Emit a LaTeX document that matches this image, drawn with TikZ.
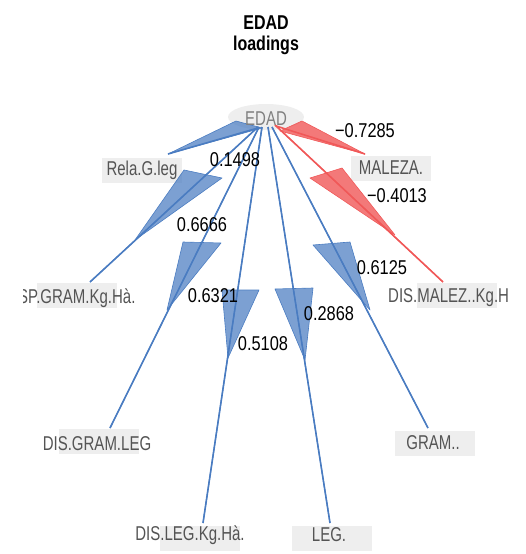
\documentclass[tikz,border=0pt]{standalone}
\usepackage{fontspec}
\usetikzlibrary{shapes.geometric}
\setmainfont{Liberation Sans}
\newfontfamily\labelfont{Liberation Sans}[FakeStretch=0.75]
\newfontfamily\valuefont{Liberation Sans}[FakeStretch=0.82]
\newfontfamily\titlefont{Liberation Sans}[FakeStretch=0.8]
\definecolor{posblue}{RGB}{74,124,193}
\definecolor{negred}{RGB}{240,88,88}
\definecolor{nodegray}{RGB}{238,238,238}
\definecolor{labelgray}{RGB}{84,84,84}
\begin{document}
\begin{tikzpicture}[x=1pt,y=-1pt,
  indbox/.style={fill=nodegray, draw=none, minimum width=80pt, minimum height=25pt, inner sep=0pt},
  indlabel/.style={font=\labelfont\fontsize{20}{20}\selectfont, text=labelgray, inner sep=0pt},
  loadlabel/.style={font=\valuefont\fontsize{20}{20}\selectfont, text=black, inner sep=0pt},
  titletext/.style={font=\titlefont\bfseries\fontsize{20}{20}\selectfont, text=black, inner sep=0pt},
  posedge/.style={draw=posblue, line width=1.6pt},
  negedge/.style={draw=negred, line width=1.6pt},
  poswedge/.style={fill=posblue, fill opacity=0.72, draw=posblue, line width=0.6pt, line join=round},
  negwedge/.style={fill=negred, fill opacity=0.8, draw=negred, line width=0.6pt, line join=round}]
\useasboundingbox (0,0) rectangle (525,554);

% title
\node[titletext] (title1) at (266,23) {EDAD};
\node[titletext] (title2) at (266,45) {loadings};

% factor node
\node[ellipse, fill=nodegray, minimum width=76pt, minimum height=26pt, inner sep=0pt] (edad) at (266,117) {};

% indicator boxes
\node[indbox] (relaBox)   at (142,170) {};
\node[indbox] (spgBox)    at (77,295)  {};
\node[indbox] (dglBox)    at (99,441)  {};
\node[indbox] (dlkBox)    at (200,538) {};
\node[indbox] (legBox)    at (332,538) {};
\node[indbox] (gramBox)   at (435,443) {};
\node[indbox] (dmkBox)    at (457,295) {};
\node[indbox] (malezaBox) at (391,168) {};

% edge start points on the factor node and end points at the indicators
\coordinate (sRela)   at (258,128);
\coordinate (sSpg)    at (258,127);
\coordinate (sDgl)    at (259,127);
\coordinate (sDlk)    at (262,127);
\coordinate (sLeg)    at (268,127);
\coordinate (sGram)   at (272,127);
\coordinate (sDmk)    at (275,125);
\coordinate (sMaleza) at (276,126);

\coordinate (tRela)   at (168,154);
\coordinate (tSpg)    at (90,282);
\coordinate (tDgl)    at (110,428);
\coordinate (tDlk)    at (203,523);
\coordinate (tLeg)    at (330,523);
\coordinate (tGram)   at (428,428);
\coordinate (tDmk)    at (443,282);
\coordinate (tMaleza) at (365,154);

% connectors
\draw[posedge] (sRela) -- (tRela);
\draw[posedge] (sSpg) -- (tSpg);
\draw[posedge] (sDgl) -- (tDgl);
\draw[posedge] (sDlk) -- (tDlk);
\draw[posedge] (sLeg) -- (tLeg);
\draw[posedge] (sGram) -- (tGram);
\draw[negedge] (sDmk) -- (tDmk);
\draw[negedge] (sMaleza) -- (tMaleza);

% arrow wedges
\filldraw[poswedge] (236,121) -- (262,128) -- (tRela) -- cycle;
\filldraw[poswedge] (184,170) -- (222,178) -- (135,240) -- cycle;
\filldraw[poswedge] (183,242) -- (221,243) -- (167,310) -- cycle;
\filldraw[poswedge] (222,290) -- (259,290) -- (228,358) -- cycle;
\filldraw[poswedge] (275,289) -- (313,288) -- (305,360) -- cycle;
\filldraw[poswedge] (313,245) -- (350,242) -- (370,310) -- cycle;
\filldraw[negwedge] (310,178) -- (342,168) -- (395,235) -- cycle;
\filldraw[negwedge] (302,121) -- (280,131) -- (tMaleza) -- cycle;

% connector lines over the wedges
\draw[posedge, line width=1pt] (sSpg) -- (tSpg);
\draw[posedge, line width=1pt] (sDgl) -- (tDgl);
\draw[posedge, line width=1pt] (sDlk) -- (tDlk);
\draw[posedge, line width=1pt] (sLeg) -- (tLeg);
\draw[posedge, line width=1pt] (sGram) -- (tGram);
\draw[negedge, line width=1pt] (sDmk) -- (tDmk);

% factor label
\node[indlabel, text=gray] (edadText) at (266,119) {EDAD};

% indicator labels
\node[indlabel] (relaText)   at (142,170) {Rela.G.leg};
\begin{scope}
  \clip (23,270) rectangle (160,320);
  \node[indlabel, anchor=west] (spgText) at (18,298) {SP.GRAM.Kg.Hà.};
\end{scope}
\node[indlabel] (dglText)    at (97,444)  {DIS.GRAM.LEG};
\node[indlabel] (dlkText)    at (190,535) {DIS.LEG.Kg.Hà.};
\node[indlabel] (legText)    at (329,535) {LEG.};
\node[indlabel] (gramText)   at (433,443) {GRAM..};
\begin{scope}
  \clip (380,270) rectangle (509,320);
  \node[indlabel, anchor=west] (dmkText) at (388,298) {DIS.MALEZ..Kg.H};
\end{scope}
\node[indlabel] (malezaText) at (391,168) {MALEZA.};

% loading values
\node[loadlabel] (lRela)   at (235,160) {0.1498};
\node[loadlabel] (lSpg)    at (202,225) {0.6666};
\node[loadlabel] (lDgl)    at (213,296) {0.6321};
\node[loadlabel] (lDlk)    at (263,344) {0.5108};
\node[loadlabel] (lLeg)    at (329,314) {0.2868};
\node[loadlabel] (lGram)   at (382,268) {0.6125};
\node[loadlabel] (lDmk)    at (397,196) {−0.4013};
\node[loadlabel] (lMaleza) at (365,131) {−0.7285};
\end{tikzpicture}
\end{document}
